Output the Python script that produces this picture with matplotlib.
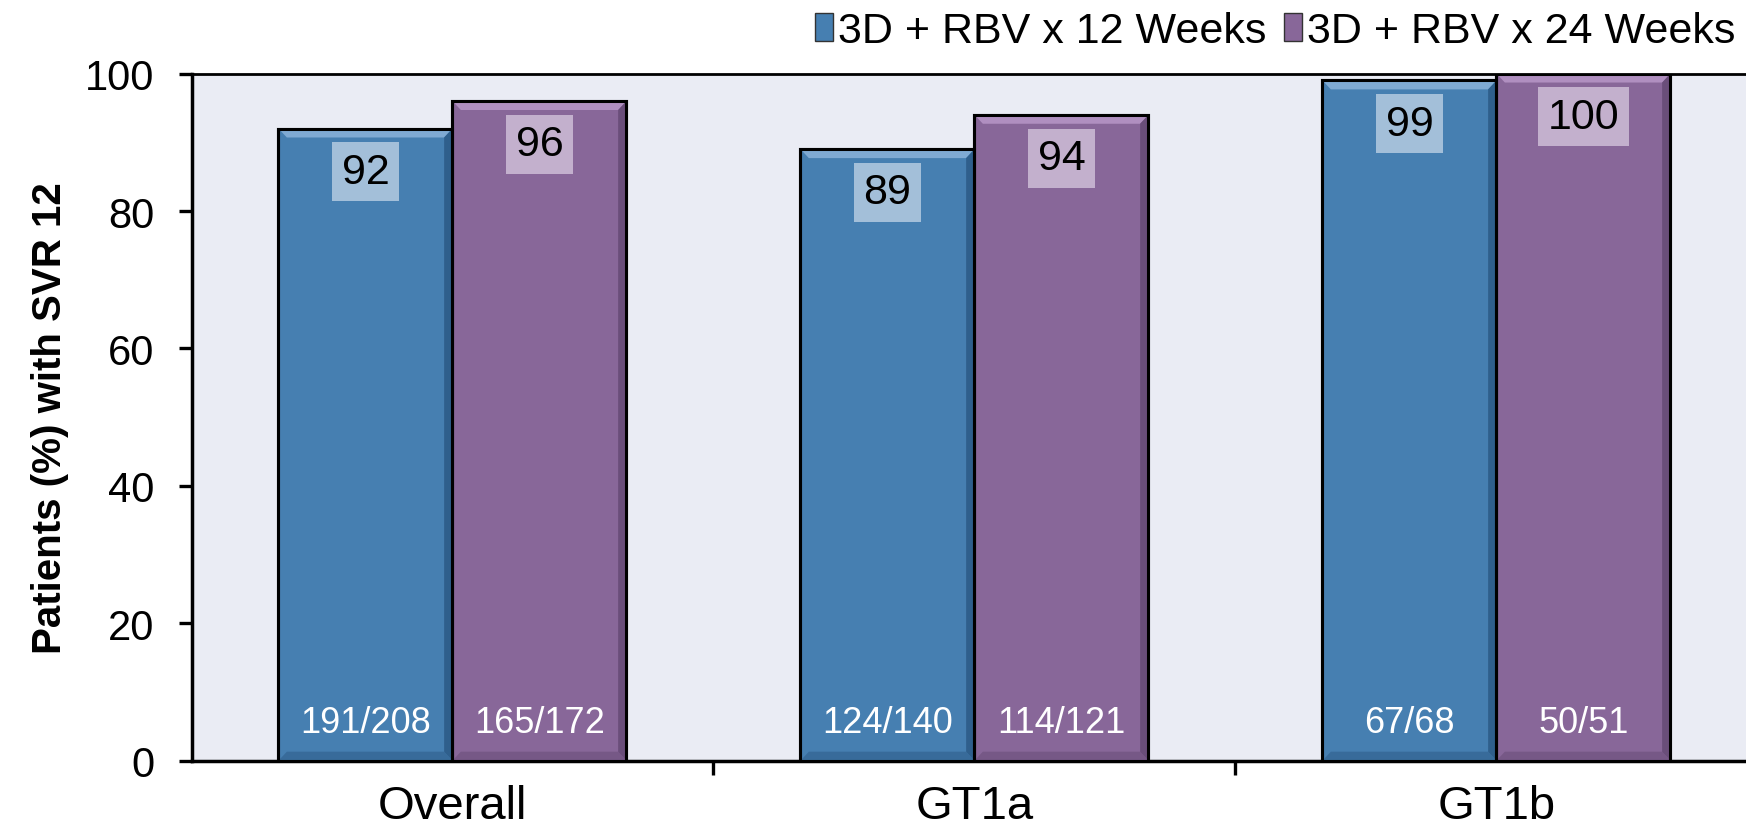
import matplotlib
matplotlib.use("Agg")
import matplotlib.pyplot as plt
from matplotlib.patches import Patch, Polygon
import numpy as np

categories = ["Overall", "GT1a", "GT1b"]
series_names = ["3D + RBV x 12 Weeks", "3D + RBV x 24 Weeks"]
svr12 = [92, 89, 99]
svr24 = [96, 94, 100]
n12 = ["191/208", "124/140", "67/68"]
n24 = ["165/172", "114/121", "50/51"]
yticks = [0, 20, 40, 60, 80, 100]

plt.rcParams['font.family'] = ['Liberation Sans', 'DejaVu Sans']

fig = plt.figure(figsize=(17.46, 8.29), dpi=100)
ax = fig.add_axes([191.5/1746, 1 - 761.6/829, 1 - 191.5/1746, (761.6-74.6)/829])
ax.set_facecolor("#EAECF4")

blue = "#467FB1"
purple = "#886799"
blue_light = "#7FAAD3"
purple_light = "#B08FC0"
blue_dark = "#2F5F8C"
purple_dark = "#6A4E7A"
w = 1/3
x = np.arange(len(categories))

for vals, offs, col, light, dark, labs, boxc in [
    (svr12, -w/2, blue, blue_light, blue_dark, n12, "#A3BFD9"),
    (svr24, w/2, purple, purple_light, purple_dark, n24, "#C3B0CD")]:
    ax.bar(x + offs, vals, width=w, color=col, edgecolor="black",
           linewidth=2.2, zorder=3)
    for xi, v, lab in zip(x + offs, vals, labs):
        d = 0.016
        h = 1.3
        # bevel top strip
        ax.add_patch(Polygon([[xi - w/2, v], [xi + w/2, v],
                              [xi + w/2 - d, v - h], [xi - w/2 + d, v - h]],
                             closed=True, facecolor=light, edgecolor="none",
                             zorder=4))
        # bevel right strip
        ax.add_patch(Polygon([[xi + w/2, v], [xi + w/2, 0],
                              [xi + w/2 - d, h], [xi + w/2 - d, v - h]],
                             closed=True, facecolor=dark, edgecolor="none",
                             zorder=4))
        # bevel bottom strip
        ax.add_patch(Polygon([[xi - w/2, 0], [xi + w/2, 0],
                              [xi + w/2 - d, h], [xi - w/2 + d, h]],
                             closed=True, facecolor=dark, edgecolor="none",
                             alpha=0.6, zorder=4))
        ax.bar(xi, v, width=w, color="none", edgecolor="black",
               linewidth=2.2, zorder=5)
        ax.text(xi, v - 6.3, f"{v}", ha="center", va="center", fontsize=31,
                color="black", zorder=6,
                bbox=dict(boxstyle="square,pad=0.22", facecolor=boxc,
                          edgecolor="none"))
        ax.text(xi, 5.5, lab, ha="center", va="center", fontsize=26,
                color="white", zorder=6)

ax.set_xlim(-0.5, 2.478)
ax.set_ylim(0, 100)
ax.set_yticks(yticks)
ax.set_yticklabels([str(t) for t in yticks], fontsize=30)
ax.set_xticks(x)
ax.set_xticklabels(categories, fontsize=34)
ax.tick_params(axis="x", length=0, pad=17)
ax.set_xticks([0.5, 1.5], minor=True)
ax.tick_params(axis="x", which="minor", length=10, width=2.4, direction="out")
ax.tick_params(axis="y", length=9.5, width=2.4, direction="out", pad=17)

for s in ["left", "bottom", "top"]:
    ax.spines[s].set_linewidth(2.5)
    ax.spines[s].set_color("black")
ax.spines["right"].set_visible(False)
ax.spines["top"].set_linewidth(2)

ax.set_ylabel("Patients (%) with SVR 12", fontsize=29, fontweight="bold",
              labelpad=12)

handles = [Patch(facecolor=blue, edgecolor="#333333", linewidth=1),
           Patch(facecolor=purple, edgecolor="#333333", linewidth=1)]
leg = fig.legend(handles, series_names, loc="upper right",
                 bbox_to_anchor=(1.016, 1.032), ncol=2, frameon=False,
                 fontsize=31, handlelength=0.42, handleheight=0.6,
                 handletextpad=0.12, columnspacing=0.4)

fig.savefig("out.png", dpi=100)
